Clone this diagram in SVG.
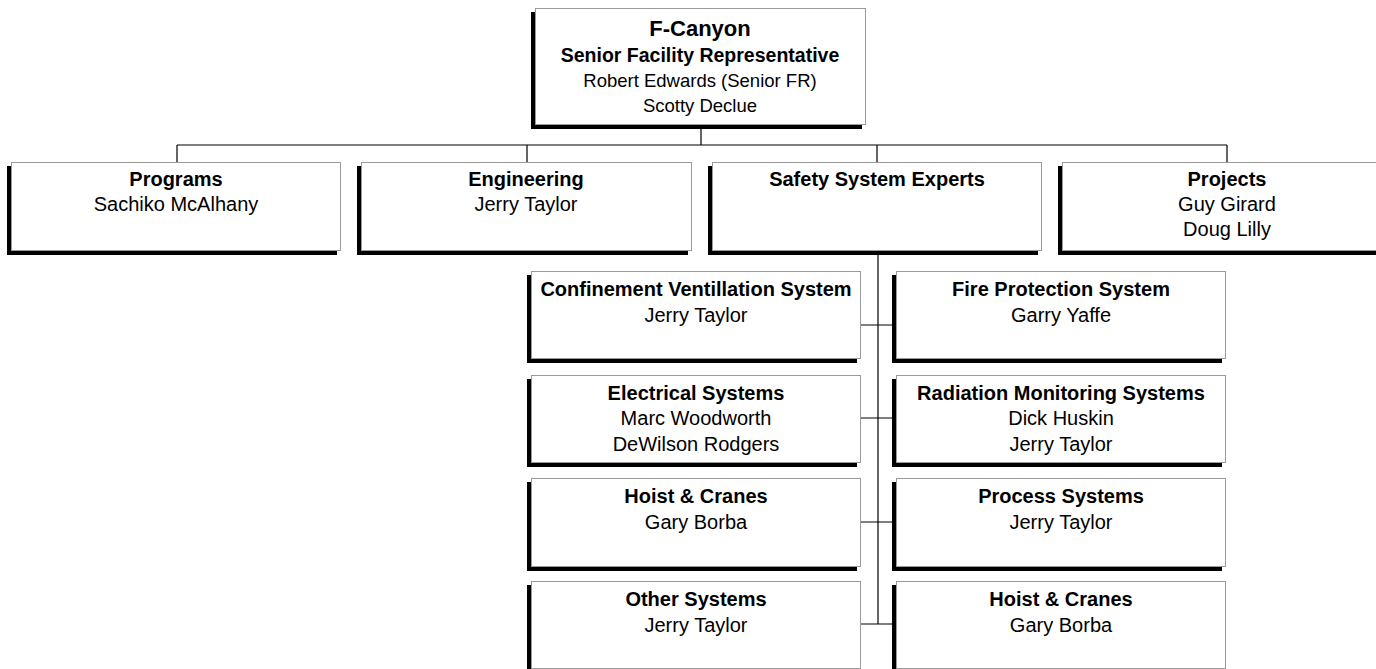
<svg xmlns="http://www.w3.org/2000/svg" width="1376" height="669" viewBox="0 0 1376 669">
<style>
.sh{fill:#000}
.bx{fill:#fff;stroke:#9a9a9a;stroke-width:1}
.cn{stroke:#000;stroke-width:1.2;fill:none}
text{font-family:"Liberation Sans",Arial,sans-serif;fill:#000;text-anchor:middle}
.t{font-weight:bold;font-size:20px}
.n{font-size:20px}
</style>
<rect width="1376" height="669" fill="#fff"/>
<g id="connectors">
<path class="cn" d="M701,125V145M177,145H1227M177,145V162M527,145V162M877,145V162M1227,145V162"/>
<path class="cn" d="M878,255V624M861,325H896M861,418H896M861,522H896M861,624H896"/>
</g>
<g id="n-fcanyon">
<rect class="sh" x="531" y="12" width="331" height="117"/>
<rect class="bx" x="535.5" y="8.5" width="330" height="116"/>
<text x="700" y="36" style="font-weight:bold;font-size:22px">F-Canyon</text>
<text x="700" y="62" style="font-weight:bold;font-size:19.5px">Senior Facility Representative</text>
<text x="700" y="87" style="font-size:18.5px">Robert Edwards (Senior FR)</text>
<text x="700" y="112" style="font-size:18.5px">Scotty Declue</text>
</g>
<g id="n-programs">
<rect class="sh" x="7" y="166" width="330" height="89"/>
<rect class="bx" x="11.5" y="162.5" width="329" height="88"/>
<text class="t" x="176" y="186">Programs</text>
<text class="n" x="176" y="211">Sachiko McAlhany</text>
</g>
<g id="n-engineering">
<rect class="sh" x="357" y="166" width="331" height="89"/>
<rect class="bx" x="361.5" y="162.5" width="330" height="88"/>
<text class="t" x="526" y="186">Engineering</text>
<text class="n" x="526" y="211">Jerry Taylor</text>
</g>
<g id="n-safety">
<rect class="sh" x="708" y="166" width="330" height="89"/>
<rect class="bx" x="712.5" y="162.5" width="329" height="88"/>
<text class="t" x="877" y="186">Safety System Experts</text>
</g>
<g id="n-projects">
<rect class="sh" x="1058" y="166" width="330" height="89"/>
<rect class="bx" x="1062.5" y="162.5" width="329" height="88"/>
<text class="t" x="1227" y="186">Projects</text>
<text class="n" x="1227" y="211">Guy Girard</text>
<text class="n" x="1227" y="236">Doug Lilly</text>
</g>
<g id="n-cvs">
<rect class="sh" x="527" y="275" width="330" height="88"/>
<rect class="bx" x="531.5" y="271.5" width="329" height="87"/>
<text class="t" x="696" y="296">Confinement Ventillation System</text>
<text class="n" x="696" y="322">Jerry Taylor</text>
</g>
<g id="n-fire">
<rect class="sh" x="892" y="275" width="330" height="88"/>
<rect class="bx" x="896.5" y="271.5" width="329" height="87"/>
<text class="t" x="1061" y="296">Fire Protection System</text>
<text class="n" x="1061" y="322">Garry Yaffe</text>
</g>
<g id="n-electrical">
<rect class="sh" x="527" y="379" width="330" height="88"/>
<rect class="bx" x="531.5" y="375.5" width="329" height="87"/>
<text class="t" x="696" y="400">Electrical Systems</text>
<text class="n" x="696" y="425">Marc Woodworth</text>
<text class="n" x="696" y="451">DeWilson Rodgers</text>
</g>
<g id="n-radiation">
<rect class="sh" x="892" y="379" width="330" height="88"/>
<rect class="bx" x="896.5" y="375.5" width="329" height="87"/>
<text class="t" x="1061" y="400">Radiation Monitoring Systems</text>
<text class="n" x="1061" y="425">Dick Huskin</text>
<text class="n" x="1061" y="451">Jerry Taylor</text>
</g>
<g id="n-hoist1">
<rect class="sh" x="527" y="482" width="330" height="89"/>
<rect class="bx" x="531.5" y="478.5" width="329" height="88"/>
<text class="t" x="696" y="503">Hoist &amp; Cranes</text>
<text class="n" x="696" y="529">Gary Borba</text>
</g>
<g id="n-process">
<rect class="sh" x="892" y="482" width="330" height="89"/>
<rect class="bx" x="896.5" y="478.5" width="329" height="88"/>
<text class="t" x="1061" y="503">Process Systems</text>
<text class="n" x="1061" y="529">Jerry Taylor</text>
</g>
<g id="n-other">
<rect class="sh" x="527" y="585" width="330" height="88"/>
<rect class="bx" x="531.5" y="581.5" width="329" height="87"/>
<text class="t" x="696" y="606">Other Systems</text>
<text class="n" x="696" y="632">Jerry Taylor</text>
</g>
<g id="n-hoist2">
<rect class="sh" x="892" y="585" width="330" height="88"/>
<rect class="bx" x="896.5" y="581.5" width="329" height="87"/>
<text class="t" x="1061" y="606">Hoist &amp; Cranes</text>
<text class="n" x="1061" y="632">Gary Borba</text>
</g>
</svg>
